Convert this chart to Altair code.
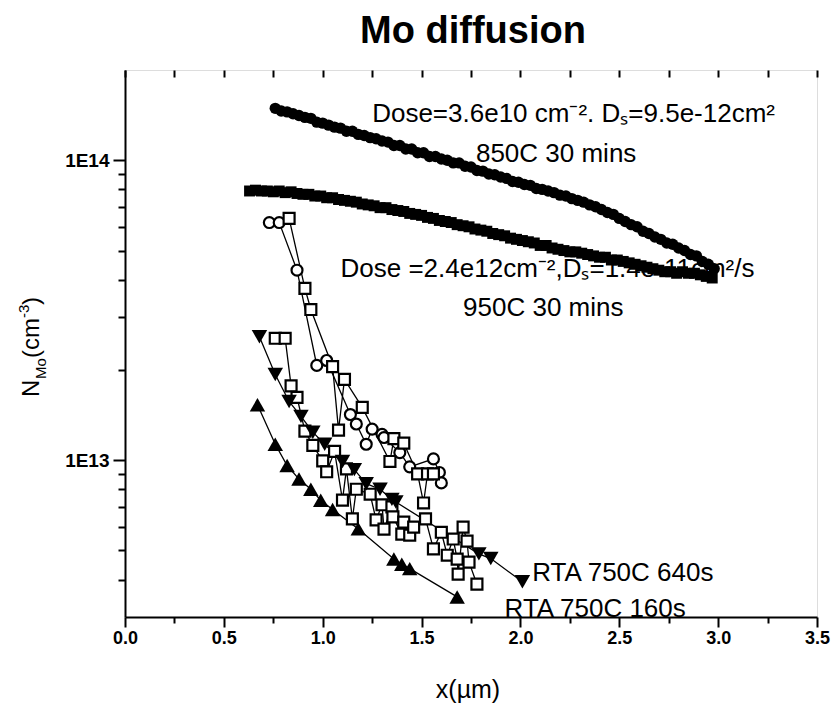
import altair as alt
import pandas as pd

# ---------------- data (x in micrometres, N in cm^-3) ----------------
# filled circles: Dose=3.6e10, 850C 30 mins
fc_x = [0.76, 0.79, 0.82, 0.85, 0.88, 0.91, 0.94, 0.97, 1.00, 1.03, 1.06, 1.09, 1.12, 1.15, 1.18,
        1.21, 1.24, 1.27, 1.30, 1.33, 1.36, 1.39, 1.42, 1.45, 1.48, 1.51, 1.54, 1.57, 1.60, 1.63,
        1.66, 1.69, 1.72, 1.75, 1.78, 1.81, 1.84, 1.87, 1.90, 1.93, 1.96, 1.99, 2.02, 2.05, 2.08,
        2.11, 2.14, 2.17, 2.20, 2.23, 2.26, 2.29, 2.32, 2.35, 2.38, 2.41, 2.44, 2.47, 2.50, 2.53,
        2.56, 2.59, 2.62, 2.65, 2.68, 2.71, 2.74, 2.77, 2.80, 2.83, 2.86, 2.89, 2.92, 2.95, 2.98]
fc_y = [14.9e13, 14.6e13, 14.5e13, 14.3e13, 14.1e13, 13.9e13, 13.8e13, 13.4e13, 13.3e13, 13.1e13,
        12.9e13, 12.8e13, 12.5e13, 12.5e13, 12.2e13, 12.1e13, 11.9e13, 11.8e13, 11.6e13, 11.5e13,
        11.2e13, 11.2e13, 10.9e13, 10.9e13, 10.6e13, 10.6e13, 10.3e13, 10.3e13, 10.1e13, 10.0e13,
        9.8e13, 9.8e13, 9.55e13, 9.5e13, 9.25e13, 9.2e13, 9.0e13, 8.95e13, 8.8e13, 8.7e13,
        8.5e13, 8.45e13, 8.3e13, 8.25e13, 8.05e13, 8.0e13, 7.9e13, 7.8e13, 7.65e13, 7.6e13,
        7.45e13, 7.35e13, 7.25e13, 7.1e13, 7.0e13, 6.85e13, 6.7e13, 6.6e13, 6.4e13, 6.25e13,
        6.1e13, 6.0e13, 5.8e13, 5.7e13, 5.55e13, 5.45e13, 5.3e13, 5.25e13, 5.1e13, 5.0e13,
        4.85e13, 4.8e13, 4.6e13, 4.5e13, 4.35e13]

# filled squares: Dose=2.4e12, 950C 30 mins
fs_x = [0.63, 0.66, 0.69, 0.72, 0.75, 0.78, 0.81, 0.84, 0.87, 0.90, 0.93, 0.96, 0.99, 1.02, 1.05,
        1.08, 1.11, 1.14, 1.17, 1.20, 1.23, 1.26, 1.29, 1.32, 1.35, 1.38, 1.41, 1.44, 1.47, 1.50,
        1.53, 1.56, 1.59, 1.62, 1.65, 1.68, 1.71, 1.74, 1.77, 1.80, 1.83, 1.86, 1.89, 1.92, 1.95,
        1.98, 2.01, 2.04, 2.07, 2.10, 2.13, 2.16, 2.19, 2.22, 2.25, 2.28, 2.31, 2.34, 2.37, 2.40,
        2.43, 2.46, 2.49, 2.52, 2.55, 2.58, 2.61, 2.64, 2.67, 2.70, 2.73, 2.76, 2.79, 2.82, 2.85,
        2.88, 2.91, 2.94, 2.97]
fs_y = [7.9e13, 7.95e13, 7.9e13, 7.9e13, 7.85e13, 7.9e13, 7.8e13, 7.85e13, 7.75e13, 7.7e13,
        7.7e13, 7.6e13, 7.6e13, 7.5e13, 7.5e13, 7.4e13, 7.35e13, 7.3e13, 7.25e13, 7.15e13,
        7.1e13, 7.05e13, 6.95e13, 6.95e13, 6.85e13, 6.8e13, 6.75e13, 6.65e13, 6.6e13, 6.55e13,
        6.45e13, 6.4e13, 6.3e13, 6.25e13, 6.2e13, 6.1e13, 6.05e13, 6.0e13, 5.9e13, 5.85e13,
        5.8e13, 5.7e13, 5.65e13, 5.6e13, 5.5e13, 5.45e13, 5.4e13, 5.35e13, 5.3e13, 5.2e13,
        5.2e13, 5.1e13, 5.05e13, 5.0e13, 4.95e13, 4.95e13, 4.9e13, 4.85e13, 4.8e13, 4.75e13,
        4.75e13, 4.65e13, 4.65e13, 4.6e13, 4.55e13, 4.5e13, 4.45e13, 4.4e13, 4.35e13, 4.3e13,
        4.25e13, 4.25e13, 4.2e13, 4.25e13, 4.2e13, 4.2e13, 4.15e13, 4.1e13, 4.05e13]

# open circles (upper group)
oc_x = [0.73, 0.78, 0.87, 0.97, 1.02, 1.14, 1.17, 1.22, 1.25, 1.30, 1.31, 1.39, 1.44, 1.56, 1.59, 1.60]
oc_y = [6.2e13, 6.2e13, 4.3e13, 2.07e13, 2.15e13, 1.42e13, 1.32e13, 1.13e13, 1.27e13, 1.22e13,
        1.19e13, 1.06e13, 9.5e12, 1.01e13, 9.1e12, 8.4e12]

# open squares (upper group)
osu_x = [0.83, 0.91, 0.94, 1.05, 1.08, 1.11, 1.20, 1.34, 1.36, 1.41, 1.48, 1.51, 1.53, 1.56]
osu_y = [6.4e13, 3.74e13, 3.18e13, 2.05e13, 1.26e13, 1.86e13, 1.50e13, 9.9e12, 1.18e13, 1.14e13,
         9.0e12, 7.2e12, 9.0e12, 9.0e12]

# open squares (lower group)
osl_x = [0.76, 0.81, 0.84, 0.87, 0.91, 0.95, 1.00, 1.02, 1.06, 1.10, 1.12, 1.15, 1.17, 1.24, 1.27,
         1.30, 1.31, 1.35, 1.355, 1.40, 1.41, 1.44, 1.46, 1.52, 1.56, 1.60, 1.63, 1.66, 1.68, 1.685,
         1.71, 1.73, 1.74, 1.78]
osl_y = [2.55e13, 2.55e13, 1.77e13, 1.62e13, 1.25e13, 1.12e13, 9.95e12, 9.15e12, 1.07e13, 7.36e12,
         9.35e12, 6.37e12, 8.0e12, 7.7e12, 6.32e12, 7.1e12, 5.89e12, 6.99e12, 6.47e12, 5.67e12,
         6.22e12, 5.62e12, 5.98e12, 6.37e12, 5.06e12, 5.75e12, 4.82e12, 5.46e12, 4.68e12, 4.17e12,
         5.98e12, 5.37e12, 4.57e12, 3.86e12]

# filled down triangles: RTA 750C 640s
dt_x = [0.68, 0.76, 0.83, 0.89, 0.95, 1.01, 1.10, 1.16, 1.22, 1.29, 1.35, 1.37, 1.79, 1.85, 2.01]
dt_y = [2.58e13, 1.93e13, 1.57e13, 1.40e13, 1.24e13, 1.13e13, 9.9e12, 9.3e12, 8.35e12, 8.0e12,
        7.4e12, 7.25e12, 4.87e12, 4.7e12, 3.93e12]

# filled up triangles: RTA 750C 160s
ut_x = [0.67, 0.76, 0.82, 0.88, 0.94, 0.99, 1.05, 1.18, 1.36, 1.40, 1.44, 1.68]
ut_y = [1.53e13, 1.13e13, 9.6e12, 8.65e12, 8.0e12, 7.35e12, 6.85e12, 5.9e12, 4.68e12, 4.5e12,
        4.35e12, 3.5e12]

# axis ticks
x_ticks = [0.0, 0.25, 0.5, 0.75, 1.0, 1.25, 1.5, 1.75, 2.0, 2.25, 2.5, 2.75, 3.0, 3.25, 3.5]
y_ticks = [4e12, 5e12, 6e12, 7e12, 8e12, 9e12, 1e13, 2e13, 3e13, 4e13, 5e13, 6e13, 7e13, 8e13,
           9e13, 1e14]

# annotations
ann_text = ["Dose=3.6e10 cm\u207b\u00b2. D\u209b=9.5e-12cm\u00b2", "850C 30 mins",
            "Dose =2.4e12cm\u207b\u00b2,D\u209b=1.4e-11cm\u00b2/s", "950C 30 mins",
            "RTA 750C 640s", "RTA 750C 160s"]
ann_x = [1.25, 1.775, 1.09, 1.71, 2.06, 1.92]
ann_y = [1.43e14, 1.05e14, 4.33e13, 3.21e13, 4.2e12, 3.2e12]

FONT = "Liberation Sans"

def df(xs, ys):
    return pd.DataFrame({"x": xs, "y": ys})

xscale = alt.Scale(domain=[0, 3.5], nice=False, zero=False)
yscale = alt.Scale(type="log", domain=[3e12, 2e14], nice=False)

x_major = "abs(datum.value*2 - round(datum.value*2)) < 0.000001"
y_major = "datum.value == 1e13 || datum.value == 1e14"

x_axis = alt.Axis(values=x_ticks, title=None, grid=False,
                  labelExpr=f"({x_major}) ? format(datum.value, '.1f') : ''",
                  tickSize={"condition": {"test": x_major, "value": 10}, "value": 6},
                  labelFont=FONT, labelFontSize=18, labelFontWeight="bold", labelColor="black",
                  labelPadding=2, labelOverlap=False, labelFlush=False,
                  domainColor="black", domainWidth=2, tickColor="black", tickWidth=2)
x_axis_top = alt.Axis(values=x_ticks, title=None, grid=False, orient="top", labels=False,
                      domain=False, offset=-7, tickSize=7, tickColor="black", tickWidth=2)
y_axis = alt.Axis(values=y_ticks, title=None, grid=False,
                  labelExpr="datum.value == 1e14 ? '1E14' : (datum.value == 1e13 ? '1E13' : '')",
                  tickSize={"condition": {"test": y_major, "value": 12}, "value": 7},
                  labelFont=FONT, labelFontSize=19, labelFontWeight="bold", labelColor="black",
                  labelPadding=4, labelOverlap=False,
                  domainColor="black", domainWidth=2, tickColor="black", tickWidth=2)


def enc(chart, xa=None):
    return chart.encode(x=alt.X("x:Q", scale=xscale, axis=xa),
                        y=alt.Y("y:Q", scale=yscale, axis=y_axis))

layers = []
layers.append(enc(alt.Chart(df(fs_x, fs_y)).mark_point(shape="square", filled=True, size=120,
                                                       color="black", opacity=1), x_axis))
layers.append(enc(alt.Chart(df(fc_x, fc_y)).mark_point(shape="circle", filled=True, size=130,
                                                       color="black", opacity=1)))
for xs, ys in [(oc_x, oc_y), (osu_x, osu_y), (osl_x, osl_y), (dt_x, dt_y), (ut_x, ut_y)]:
    layers.append(enc(alt.Chart(df(xs, ys)).mark_line(color="black", strokeWidth=1.3)))
layers.append(enc(alt.Chart(df(oc_x, oc_y)).mark_point(shape="circle", filled=True, size=120,
                                                       fill="white", stroke="black",
                                                       strokeWidth=2.2, opacity=1)))
for xs, ys in [(osu_x, osu_y), (osl_x, osl_y)]:
    layers.append(enc(alt.Chart(df(xs, ys)).mark_point(shape="square", filled=True, size=120,
                                                       fill="white", stroke="black",
                                                       strokeWidth=2.2, opacity=1)))
layers.append(enc(alt.Chart(df(dt_x, dt_y)).mark_point(shape="triangle-down", filled=True,
                                                       size=240, color="black", opacity=1)))
layers.append(enc(alt.Chart(df(ut_x, ut_y)).mark_point(shape="triangle-up", filled=True,
                                                       size=240, color="black", opacity=1)))
# top frame ticks
layers.append(enc(alt.Chart(df(fc_x, fc_y)).mark_point(opacity=0), x_axis_top))

ann = pd.DataFrame({"t": ann_text, "x": ann_x, "y": ann_y})
layers.append(enc(alt.Chart(ann).mark_text(align="left", baseline="middle", font=FONT,
                                           fontSize=26, color="black"))
              .encode(text="t:N"))

# title and axis titles
def label(txt, px, py, size, angle=0, weight="normal", align="left", baseline="alphabetic"):
    return alt.Chart(pd.DataFrame({"t": [txt]})).mark_text(
        align=align, baseline=baseline, font=FONT, fontSize=size, fontWeight=weight,
        angle=angle, color="black").encode(x=alt.value(px), y=alt.value(py), text="t:N")

layers.append(label("Mo diffusion", 348, -27, 38, weight="bold", align="center"))
layers.append(label("x(\u00b5m)", 343, 628, 25, align="center"))
# y title: N_Mo(cm^-3), rotated
layers.append(label("N", -86, 327, 24, angle=270))
layers.append(label("Mo", -79, 309, 15, angle=270))
layers.append(label("(cm", -86, 288, 24, angle=270))
layers.append(label("-3", -96, 248, 15, angle=270))
layers.append(label(")", -86, 235, 24, angle=270))

chart = alt.layer(*layers).resolve_axis(x="independent").properties(
    width=692, height=547,
    autosize=alt.AutoSizeParams(type="none"),
    padding={"left": 125, "top": 70, "right": 16, "bottom": 92},
).configure_view(stroke="black", strokeWidth=2).configure(background="white")

chart.save("out.html", embed_options={"renderer": "svg", "actions": False})
